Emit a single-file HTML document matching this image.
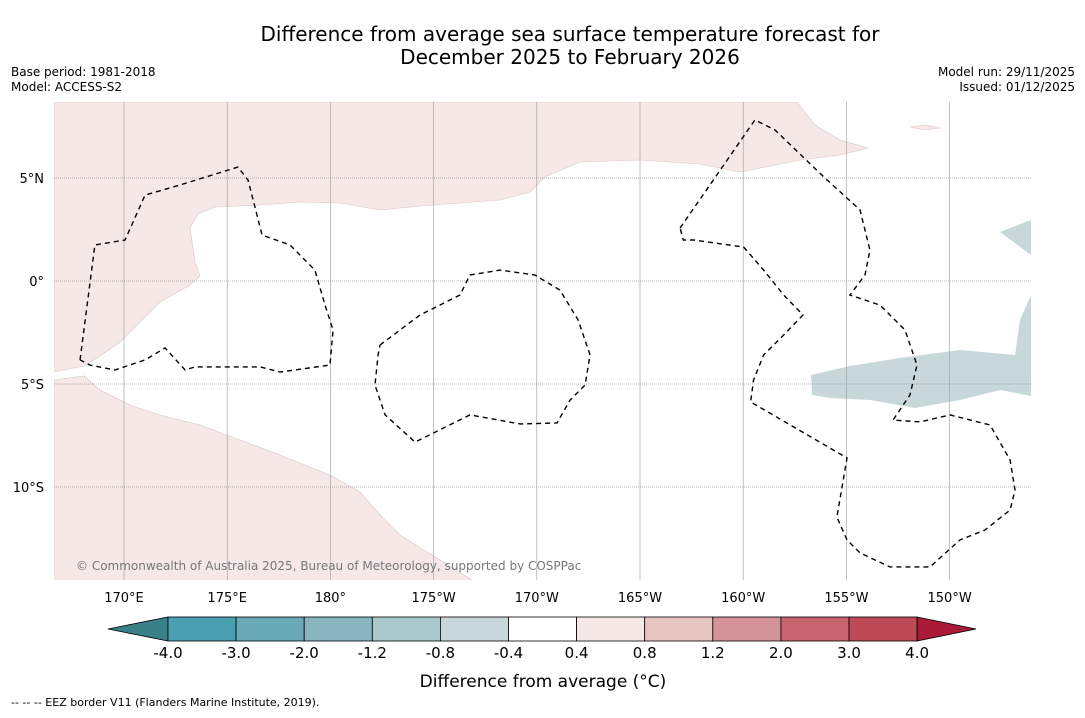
<!DOCTYPE html>
<html><head><meta charset="utf-8"><style>
body{margin:0;background:#fff;width:1085px;height:713px;overflow:hidden;font-family:"Liberation Sans","DejaVu Sans",sans-serif}
svg text{font-family:"DejaVu Sans","Liberation Sans",sans-serif}
</style></head><body>
<svg id="chart" width="1085" height="713" xmlns="http://www.w3.org/2000/svg">
<text x="570" y="41" font-size="20" text-anchor="middle">Difference from average sea surface temperature forecast for</text>
<text x="570" y="64" font-size="20" text-anchor="middle">December 2025 to February 2026</text>
<text x="11" y="76" font-size="12">Base period: 1981-2018</text>
<text x="11" y="91" font-size="12">Model: ACCESS-S2</text>
<text x="1075" y="76" font-size="12" text-anchor="end">Model run: 29/11/2025</text>
<text x="1075" y="91" font-size="12" text-anchor="end">Issued: 01/12/2025</text>
<g id="map">
<clipPath id="mc"><rect x="54" y="102" width="977" height="478"/></clipPath>
<g clip-path="url(#mc)">
<path fill="#f5e8e6" stroke="#d9c6c3" stroke-width="0.6" d="M54,102 L797,102 L815,125 L840,140 L868,148 L840,155 L800,160 L770,166 L740,172 L700,164 L640,160 L580,162 L545,177 L530,192 L500,200 L460,203 L420,206 L380,210 L340,203 L300,202 L260,205 L215,207 L198,214 L190,228 L195,262 L200,276 L190,285 L160,302 L140,322 L120,342 L100,356 L84,366 L54,372 Z"/>
<path fill="#f5e8e6" stroke="#d9c6c3" stroke-width="0.6" d="M54,380 L84,376 L100,390 L130,405 L160,415 L200,425 L240,440 L280,455 L330,475 L360,492 L380,515 L400,535 L440,560 L475,582 L54,582 Z"/>
<path fill="#f5e8e6" stroke="#d9c6c3" stroke-width="0.6" d="M910,127 L925,125 L940,128 L925,130 Z"/>
<path fill="#c8d8da" d="M1000,232 L1031,220 L1031,255 Z"/>
<path fill="#c8d8da" d="M811,375 L850,366 L900,358 L960,350 L1015,355 L1020,320 L1031,295 L1031,396 L1000,390 L960,400 L915,408 L870,400 L830,398 L812,395 Z"/>
</g>
<g id="grid"></g>
<g id="contours" fill="none" stroke="#000" stroke-width="1.4" stroke-dasharray="5,4"></g>
<text x="76" y="570" font-size="12" fill="#777">© Commonwealth of Australia 2025, Bureau of Meteorology, supported by COSPPac</text>
</g>
<g id="cbar"></g>
<text x="543" y="687" font-size="17" text-anchor="middle">Difference from average (°C)</text>
<text x="11" y="706" font-size="11">--  --  -- EEZ border V11 (Flanders Marine Institute, 2019).</text>
</svg>
<script>
const lonTicks=[170,175,180,-175,-170,-165,-160,-155,-150];
const lonLabels=["170°E","175°E","180°","175°W","170°W","165°W","160°W","155°W","150°W"];
const latTicks=[5,0,-5,-10];
const latLabels=["5°N","0°","5°S","10°S"];
const levels=[-4,-3,-2,-1.2,-0.8,-0.4,0.4,0.8,1.2,2,3,4];
const levelLabels=["-4.0","-3.0","-2.0","-1.2","-0.8","-0.4","0.4","0.8","1.2","2.0","3.0","4.0"];
const levelColors=["#4aa0b0","#6aaab8","#89b5c0","#a9c8cc","#c8d8da","#ffffff","#f5e8e6","#e7c6c1","#d4939a","#c9636f","#be4a58"];
const contourA=[[167.87,-3.83],[168.59,1.75],[170.05,1.99],[171.02,4.17],[172.71,4.66],[175.52,5.53],[176.01,4.9],[176.69,2.23],[178.04,1.75],[179.25,0.53],[179.74,-1.17],[180.13,-2.38],[179.98,-4.08],[177.56,-4.42],[176.59,-4.17],[173.44,-4.17],[172.96,-4.32],[171.99,-3.25],[171.02,-3.83],[169.56,-4.32],[168.35,-4.08],[167.87,-3.83]];
const contourB=[[182.40,-3.11],[184.34,-1.65],[186.28,-0.68],[186.76,0.29],[188.22,0.53],[189.91,0.29],[191.12,-0.44],[192.00,-1.89],[192.58,-3.59],[192.34,-5.05],[191.61,-5.78],[190.98,-6.89],[189.19,-6.94],[186.76,-6.50],[184.10,-7.82],[182.65,-6.50],[182.16,-5.05],[182.31,-3.59],[182.40,-3.11]];
const contourC=[[196.94,2.57],[200.57,7.82],[201.54,7.33],[203.96,5.0],[205.66,3.45],[206.14,1.50],[205.90,0.29],[205.17,-0.68],[206.63,-1.17],[207.84,-2.38],[208.42,-4.08],[208.08,-5.53],[207.26,-6.75],[208.57,-6.84],[210.02,-6.50],[211.96,-6.99],[212.93,-8.69],[213.17,-10.15],[212.93,-11.12],[211.71,-12.09],[210.50,-12.57],[209.05,-13.88],[207.11,-13.88],[205.66,-13.20],[205.03,-12.57],[204.54,-11.46],[205.03,-8.59],[200.36,-5.87],[200.50,-4.81],[200.99,-3.59],[201.96,-2.62],[202.90,-1.65],[201.96,-0.68],[200.99,0.53],[200.02,1.65],[197.59,1.99],[197.10,1.99],[196.94,2.57]];
const X=lon=>{let l=lon<0?lon+360:lon;return 124+(l-170)*20.64;};
const Y=lat=>281-lat*20.6;
const ns="http://www.w3.org/2000/svg";
function mk(t,p,a){const e=document.createElementNS(ns,t);for(const k in a)e.setAttribute(k,a[k]);p.appendChild(e);return e;}
const grid=document.getElementById('grid');
lonTicks.forEach((l,i)=>{
 const ln=mk('line',grid,{x1:X(l),x2:X(l),y1:102,y2:580,stroke:'#999','stroke-width':0.6});
 
 
 const t=mk('text',grid,{x:X(l),y:602,'font-size':13,'text-anchor':'middle'});t.textContent=lonLabels[i];
 
 
});
latTicks.forEach((l,i)=>{
 const ln=mk('line',grid,{x1:54,x2:1031,y1:Y(l),y2:Y(l),stroke:'#777','stroke-width':0.6,'stroke-dasharray':'1,1'});
 
 
 const t=mk('text',grid,{x:44,y:Y(l)+5,'font-size':13,'text-anchor':'end'});t.textContent=latLabels[i];
 
 
});
const cg=document.getElementById('contours');
[contourA,contourB,contourC].forEach(c=>{
 const p=mk('polyline',cg,{points:c.map(q=>X(q[0])+','+Y(q[1])).join(' ')});
 
 
});
const cb=document.getElementById('cbar');
const bx0=168,bw=68.1,by=617,bh=24;
const la=mk('polygon',cb,{points:`108,629 ${bx0},${by} ${bx0},${by+bh}`,fill:'#3a8088',stroke:'#000','stroke-width':0.8});


levelColors.forEach((c,i)=>{
 const r=mk('rect',cb,{x:bx0+i*bw,y:by,width:bw,height:bh,fill:c,stroke:'#000','stroke-width':0.8});
 
 
});
const xe=bx0+levelColors.length*bw;
const ra=mk('polygon',cb,{points:`${xe},${by} 976,629 ${xe},${by+bh}`,fill:'#a81a38',stroke:'#000','stroke-width':0.8});


levels.forEach((v,i)=>{
 const t=mk('text',cb,{x:bx0+i*bw,y:658,'font-size':15,'text-anchor':'middle'});t.textContent=levelLabels[i];
 
 
});
</script>
</body></html>
